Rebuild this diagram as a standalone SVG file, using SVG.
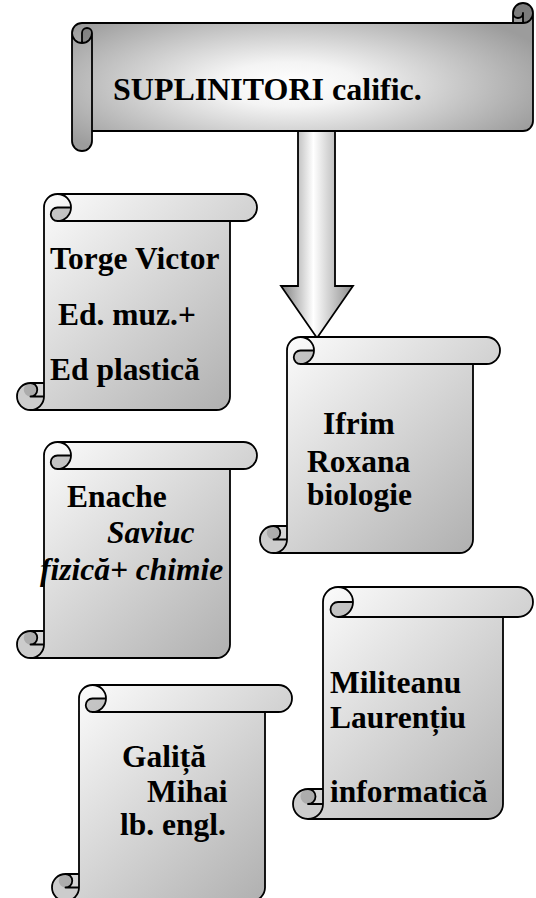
<svg xmlns="http://www.w3.org/2000/svg" width="536" height="898" viewBox="0 0 536 898">
<defs>
<radialGradient id="gBanner" cx="0.47" cy="0.55" r="0.6" gradientUnits="objectBoundingBox">
<stop offset="0" stop-color="#ffffff"/><stop offset="0.25" stop-color="#f4f4f4"/><stop offset="1" stop-color="#9c9c9c"/>
</radialGradient>
<linearGradient id="gScroll" x1="0" y1="0" x2="1" y2="1" gradientUnits="objectBoundingBox">
<stop offset="0" stop-color="#ffffff"/><stop offset="1" stop-color="#ababab"/>
</linearGradient>
<linearGradient id="gArrow" x1="281" y1="0" x2="353" y2="0" gradientUnits="userSpaceOnUse">
<stop offset="0" stop-color="#7f7f7f"/><stop offset="0.45" stop-color="#ffffff"/><stop offset="1" stop-color="#8c8c8c"/>
</linearGradient>
</defs>
<style>
.fill{fill:url(#gScroll);stroke:none}
.bfill{fill:url(#gBanner);stroke:none}
.dark{fill:#000;fill-opacity:0.2;stroke:none}
.line{fill:none;stroke:#000;stroke-width:1.8;stroke-linejoin:round}
.t{font-family:"Liberation Serif","Times New Roman",serif;font-weight:bold;font-size:31.5px;fill:#000}
.i{font-style:italic}
.big{font-size:32px}
</style>

<g id="connectors">
<path d="M298,131 L335,131 L335,286 L353,286 L317,338 L281,286 L298,286 Z" fill="url(#gArrow)" stroke="#000" stroke-width="1.8" stroke-linejoin="miter"/>
</g>

<g id="banner" transform="translate(72,3)">
<path class="bfill" d="M0,30 A10,10 0 0 1 10,20 L441,20 L441,10 A10,10 0 0 1 461,10 L461,118 A10,10 0 0 1 451,128 L20,128 L20,138 A10,10 0 0 1 0,138 Z"/>
<path class="dark" d="M10,40 A10,10 0 0 0 20,30 A5,5 0 0 0 10,30 Z M451,20 A10,10 0 1 0 441,10 A5,5 0 0 0 451,10 Z"/>
<path class="line" d="M0,30 A10,10 0 0 1 10,20 L441,20 L441,10 A10,10 0 0 1 461,10 L461,118 A10,10 0 0 1 451,128 L20,128 L20,138 A10,10 0 0 1 0,138 Z M441,20 L451,20 A10,10 0 0 0 461,10 M451,20 L451,10 A5,5 0 0 1 441,10 M10,40 L10,30 A5,5 0 0 1 20,30 A10,10 0 0 1 0,30 M20,30 L20,128"/>
<text class="t big" x="41" y="97">SUPLINITORI calific.</text>
</g>

<g id="torge" transform="translate(17,194)">
<path class="fill" d="M13.5,216 A13.5,13.5 0 0 0 27,202.5 L13.5,202.5 A6.75,6.75 0 0 1 13.5,189 L27,189 L27,13.5 A13.5,13.5 0 0 1 40.5,0 L226.5,0 A13.5,13.5 0 0 1 226.5,27 L213,27 L213,202.5 A13.5,13.5 0 0 1 199.5,216 Z"/>
<path class="dark" d="M54,13.5 A13.5,13.5 0 0 1 40.5,27 A6.75,6.75 0 0 1 40.5,13.5 Z M27,202.5 A13.5,13.5 0 1 1 13.5,189 A6.75,6.75 0 0 1 13.5,202.5 Z"/>
<path class="line" d="M27,189 L27,13.5 A13.5,13.5 0 0 1 40.5,0 L226.5,0 A13.5,13.5 0 0 1 226.5,27 L213,27 L213,202.5 A13.5,13.5 0 0 1 199.5,216 L13.5,216 A13.5,13.5 0 0 1 13.5,189 Z M40.5,0 A13.5,13.5 0 0 1 40.5,27 A6.75,6.75 0 0 1 40.5,13.5 L54,13.5 M213,27 L40.5,27 M13.5,189 A6.75,6.75 0 0 1 13.5,202.5 L27,202.5 M13.5,216 A13.5,13.5 0 0 0 27,202.5 L27,189"/>
<text class="t" x="33" y="75">Torge Victor</text>
<text class="t" x="41" y="131">Ed. muz.+</text>
<text class="t" x="33" y="186">Ed plastică</text>
</g>

<g id="ifrim" transform="translate(260,337)">
<path class="fill" d="M13.5,216 A13.5,13.5 0 0 0 27,202.5 L13.5,202.5 A6.75,6.75 0 0 1 13.5,189 L27,189 L27,13.5 A13.5,13.5 0 0 1 40.5,0 L226.5,0 A13.5,13.5 0 0 1 226.5,27 L213,27 L213,202.5 A13.5,13.5 0 0 1 199.5,216 Z"/>
<path class="dark" d="M54,13.5 A13.5,13.5 0 0 1 40.5,27 A6.75,6.75 0 0 1 40.5,13.5 Z M27,202.5 A13.5,13.5 0 1 1 13.5,189 A6.75,6.75 0 0 1 13.5,202.5 Z"/>
<path class="line" d="M27,189 L27,13.5 A13.5,13.5 0 0 1 40.5,0 L226.5,0 A13.5,13.5 0 0 1 226.5,27 L213,27 L213,202.5 A13.5,13.5 0 0 1 199.5,216 L13.5,216 A13.5,13.5 0 0 1 13.5,189 Z M40.5,0 A13.5,13.5 0 0 1 40.5,27 A6.75,6.75 0 0 1 40.5,13.5 L54,13.5 M213,27 L40.5,27 M13.5,189 A6.75,6.75 0 0 1 13.5,202.5 L27,202.5 M13.5,216 A13.5,13.5 0 0 0 27,202.5 L27,189"/>
<text class="t" x="63" y="97">Ifrim</text>
<text class="t" x="47" y="135">Roxana</text>
<text class="t" x="47" y="168">biologie</text>
</g>

<g id="enache" transform="translate(17,442)">
<path class="fill" d="M13.5,216 A13.5,13.5 0 0 0 27,202.5 L13.5,202.5 A6.75,6.75 0 0 1 13.5,189 L27,189 L27,13.5 A13.5,13.5 0 0 1 40.5,0 L226.5,0 A13.5,13.5 0 0 1 226.5,27 L213,27 L213,202.5 A13.5,13.5 0 0 1 199.5,216 Z"/>
<path class="dark" d="M54,13.5 A13.5,13.5 0 0 1 40.5,27 A6.75,6.75 0 0 1 40.5,13.5 Z M27,202.5 A13.5,13.5 0 1 1 13.5,189 A6.75,6.75 0 0 1 13.5,202.5 Z"/>
<path class="line" d="M27,189 L27,13.5 A13.5,13.5 0 0 1 40.5,0 L226.5,0 A13.5,13.5 0 0 1 226.5,27 L213,27 L213,202.5 A13.5,13.5 0 0 1 199.5,216 L13.5,216 A13.5,13.5 0 0 1 13.5,189 Z M40.5,0 A13.5,13.5 0 0 1 40.5,27 A6.75,6.75 0 0 1 40.5,13.5 L54,13.5 M213,27 L40.5,27 M13.5,189 A6.75,6.75 0 0 1 13.5,202.5 L27,202.5 M13.5,216 A13.5,13.5 0 0 0 27,202.5 L27,189"/>
<text class="t" x="50" y="65">Enache</text>
<text class="t i" x="90" y="101">Saviuc</text>
<text class="t i" x="23" y="138">fizică+ chimie</text>
</g>

<g id="militeanu" transform="translate(293,587)">
<path class="fill" d="M15,232 A15,15 0 0 0 30,217 L15,217 A7.5,7.5 0 0 1 15,202 L30,202 L30,15 A15,15 0 0 1 45,0 L225,0 A15,15 0 0 1 225,30 L210,30 L210,217 A15,15 0 0 1 195,232 Z"/>
<path class="dark" d="M60,15 A15,15 0 0 1 45,30 A7.5,7.5 0 0 1 45,15 Z M30,217 A15,15 0 1 1 15,202 A7.5,7.5 0 0 1 15,217 Z"/>
<path class="line" d="M30,202 L30,15 A15,15 0 0 1 45,0 L225,0 A15,15 0 0 1 225,30 L210,30 L210,217 A15,15 0 0 1 195,232 L15,232 A15,15 0 0 1 15,202 Z M45,0 A15,15 0 0 1 45,30 A7.5,7.5 0 0 1 45,15 L60,15 M210,30 L45,30 M15,202 A7.5,7.5 0 0 1 15,217 L30,217 M15,232 A15,15 0 0 0 30,217 L30,202"/>
<text class="t" x="37" y="106">Militeanu</text>
<text class="t" x="37" y="141">Laurențiu</text>
<text class="t" x="37" y="215">informatică</text>
</g>

<g id="galita" transform="translate(52,685)">
<path class="fill" d="M13.5,216 A13.5,13.5 0 0 0 27,202.5 L13.5,202.5 A6.75,6.75 0 0 1 13.5,189 L27,189 L27,13.5 A13.5,13.5 0 0 1 40.5,0 L226.5,0 A13.5,13.5 0 0 1 226.5,27 L213,27 L213,202.5 A13.5,13.5 0 0 1 199.5,216 Z"/>
<path class="dark" d="M54,13.5 A13.5,13.5 0 0 1 40.5,27 A6.75,6.75 0 0 1 40.5,13.5 Z M27,202.5 A13.5,13.5 0 1 1 13.5,189 A6.75,6.75 0 0 1 13.5,202.5 Z"/>
<path class="line" d="M27,189 L27,13.5 A13.5,13.5 0 0 1 40.5,0 L226.5,0 A13.5,13.5 0 0 1 226.5,27 L213,27 L213,202.5 A13.5,13.5 0 0 1 199.5,216 L13.5,216 A13.5,13.5 0 0 1 13.5,189 Z M40.5,0 A13.5,13.5 0 0 1 40.5,27 A6.75,6.75 0 0 1 40.5,13.5 L54,13.5 M213,27 L40.5,27 M13.5,189 A6.75,6.75 0 0 1 13.5,202.5 L27,202.5 M13.5,216 A13.5,13.5 0 0 0 27,202.5 L27,189"/>
<text class="t" x="70" y="82">Galiță</text>
<text class="t" x="95" y="117">Mihai</text>
<text class="t" x="68" y="150">lb. engl.</text>
</g>
</svg>
